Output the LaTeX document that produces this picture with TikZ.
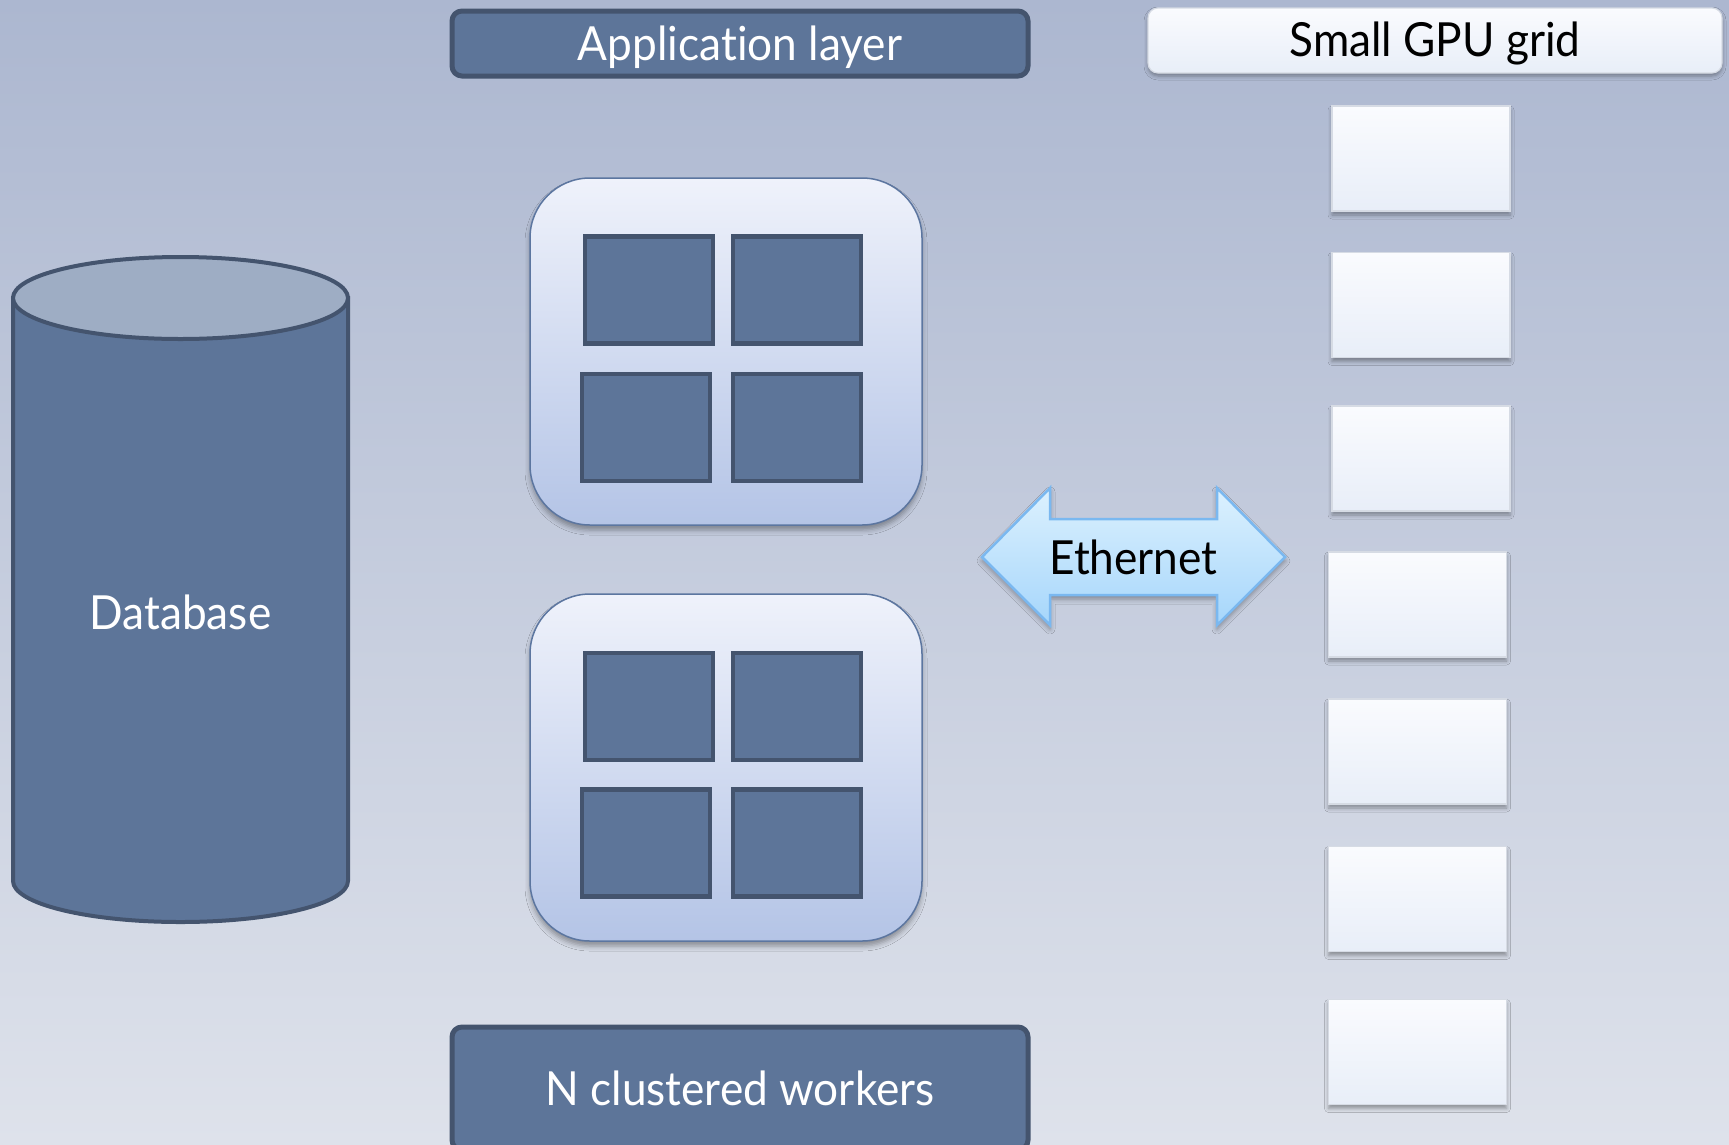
\documentclass[tikz,border=0pt]{standalone}
\usepackage{fontspec}
\setmainfont{Lato}[FakeStretch=0.94, Ligatures=NoCommon]
\usetikzlibrary{shadows.blur}

\definecolor{bgtop}{RGB}{172,183,208}
\definecolor{bgbot}{RGB}{222,226,235}
\definecolor{darkfill}{RGB}{93,117,153}
\definecolor{darkline}{RGB}{68,84,110}
\definecolor{dbtop}{RGB}{158,173,196}
\definecolor{wtop}{RGB}{239,242,251}
\definecolor{wbot}{RGB}{180,196,230}
\definecolor{wline}{RGB}{92,118,160}
\definecolor{gtop}{RGB}{250,251,254}
\definecolor{gbot}{RGB}{232,238,248}
\definecolor{gline}{RGB}{214,219,228}
\definecolor{etop}{RGB}{220,241,254}
\definecolor{ebot}{RGB}{166,214,251}
\definecolor{eline}{RGB}{122,184,240}

\tikzset{
  label font/.style={font=\fontsize{47}{54}\selectfont},
  darkbox/.style={draw=darkline, fill=darkfill, line width=5pt, rounded corners=10pt, inner sep=0pt},
  lightbar/.style={draw=gline, line width=1.2pt, top color=gtop, bottom color=gbot,
    rounded corners=10pt, inner sep=0pt,
    blur shadow={shadow xshift=0pt, shadow yshift=-3pt, shadow blur radius=4pt, shadow opacity=35}},
  gpubox/.style={draw=gline, line width=1.2pt, top color=gtop, bottom color=gbot,
    minimum width=178pt, minimum height=105pt, inner sep=0pt,
    blur shadow={shadow xshift=0pt, shadow yshift=-4pt, shadow blur radius=4pt, shadow opacity=35}},
  workerbox/.style={draw=wline, line width=1.5pt, top color=wtop, bottom color=wbot,
    rounded corners=60pt, minimum width=392pt, minimum height=347pt, inner sep=0pt,
    blur shadow={shadow xshift=0pt, shadow yshift=-5pt, shadow blur radius=5pt, shadow opacity=35}},
  corebox/.style={draw=darkline, fill=darkfill, line width=4.5pt,
    minimum width=128pt, minimum height=107pt, inner sep=0pt},
  dbline/.style={draw=darkline, line width=4pt},
  ethshape/.style={draw=eline, line width=2.5pt, top color=etop, bottom color=ebot, line join=miter,
    blur shadow={shadow xshift=0pt, shadow yshift=-4pt, shadow blur radius=5pt, shadow opacity=35}},
  whitetext/.style={text=white, label font, inner sep=0pt},
  blacktext/.style={text=black, label font, inner sep=0pt},
}

\begin{document}
\begin{tikzpicture}[x=1pt, y=-1pt]
  % page and background
  \useasboundingbox (0,0) rectangle (1729,1144);
  \shade[top color=bgtop, bottom color=bgbot] (0,0) rectangle (1729,1144);

  % database cylinder
  \path[dbline, fill=darkfill] (13,298) -- (13,881)
    arc[start angle=180, end angle=0, x radius=167.5, y radius=41] -- (348,298) -- cycle;
  \path[dbline, fill=dbtop] (180.5,298) ellipse[x radius=167.5, y radius=41];
  \node[whitetext] (db) at (180.5,612) {Database};

  % header bars
  \node[darkbox, minimum width=576pt, minimum height=65pt] (app) at (740,43.5) {};
  \node[whitetext] (apptext) at (740,47) {Application layer};
  \node[lightbar, minimum width=574pt, minimum height=65pt] (gpugrid) at (1435,40.5) {};
  \node[blacktext] (gputext) at (1435,43) {Small GPU grid};
  \node[darkbox, minimum width=576pt, minimum height=123pt] (nworkers) at (740,1088.5) {};
  \node[whitetext] (nwtext) at (740,1088) {N clustered workers};

  % clustered workers, four cores each
  \node[workerbox] (w1) at (726,351.5) {};
  \node[corebox] (w1a) at (649,290) {};
  \node[corebox] (w1b) at (797,290) {};
  \node[corebox] (w1c) at (646,427.5) {};
  \node[corebox] (w1d) at (797,427.5) {};

  \node[workerbox] (w2) at (726,767.5) {};
  \node[corebox] (w2a) at (649,706.5) {};
  \node[corebox] (w2b) at (797,706.5) {};
  \node[corebox] (w2c) at (646,843) {};
  \node[corebox] (w2d) at (797,843) {};

  % GPU nodes
  \node[gpubox] (gpu1) at (1421,158.5) {};
  \node[gpubox] (gpu2) at (1421,305) {};
  \node[gpubox] (gpu3) at (1421,458.5) {};
  \node[gpubox] (gpu4) at (1417.5,604.5) {};
  \node[gpubox] (gpu5) at (1417.5,751.5) {};
  \node[gpubox] (gpu6) at (1417.5,899) {};
  \node[gpubox] (gpu7) at (1417.5,1052) {};

  % Ethernet double arrow
  \path[ethshape] (982,557) -- (1050,488) -- (1050,519) -- (1217,519) -- (1217,488)
    -- (1285,557) -- (1217,625) -- (1217,595) -- (1050,595) -- (1050,625) -- cycle;
  \node[blacktext] (eth) at (1133.5,557) {Ethernet};
\end{tikzpicture}
\end{document}
